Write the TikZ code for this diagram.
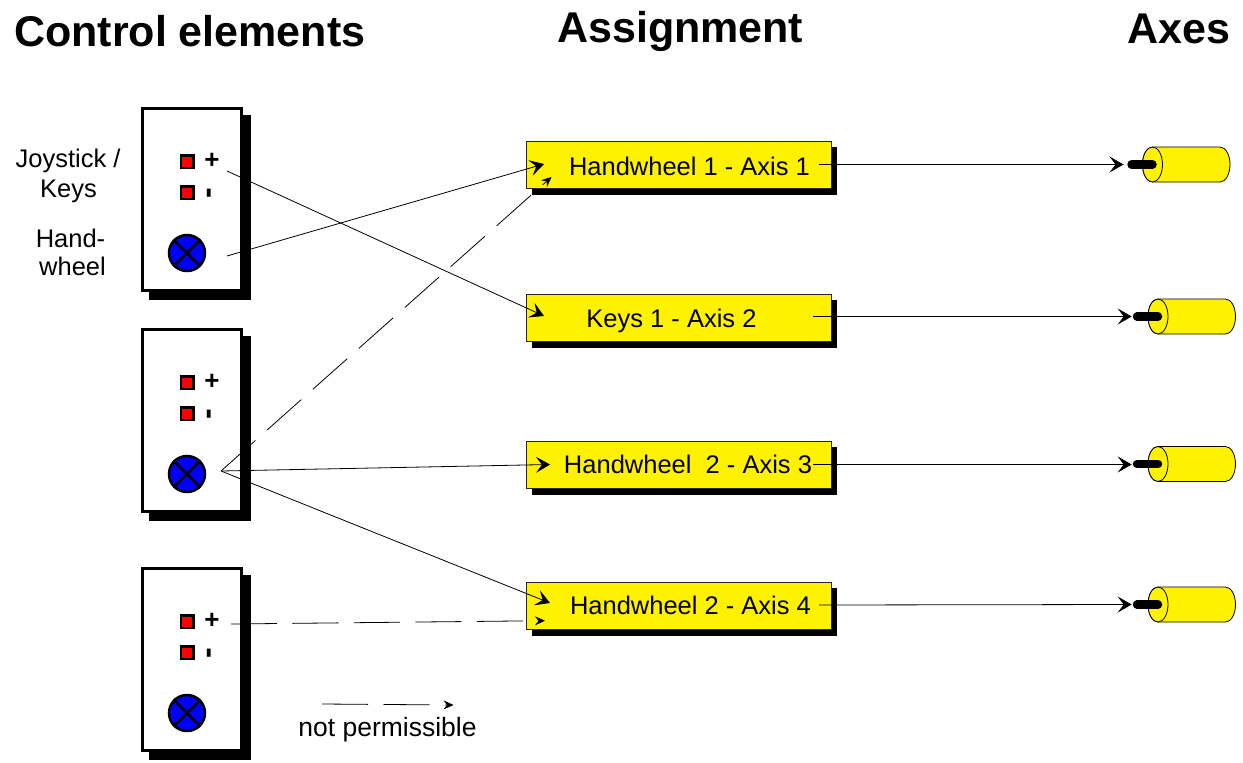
\documentclass[tikz,border=0pt]{standalone}
\usepackage{fontspec}
\setmainfont{Liberation Sans}
\usetikzlibrary{arrows.meta,shadows,calc}

\tikzset{
  title/.style={font=\fontsize{43}{50}\selectfont\bfseries, inner sep=0pt, anchor=base west},
  lbl/.style={font=\fontsize{25.5}{30}\selectfont, inner sep=0pt, anchor=base},
  panel/.style={draw=black, line width=3pt, fill=white, inner sep=0pt,
    minimum width=99pt, minimum height=182pt,
    general shadow={fill=black, draw=black, line width=3pt, shadow xshift=7.5pt, shadow yshift=-7.5pt}},
  keybox/.style={draw=black, line width=2.5pt, fill=red, minimum size=12.5pt, inner sep=0pt},
  signplus/.style={font=\fontsize{26}{30}\selectfont\bfseries, inner sep=0pt},
  signminus/.style={font=\fontsize{32}{36}\selectfont\bfseries, inner sep=0pt, rotate=90},
  wheel/.style={circle, draw=black, line width=2.5pt, fill=blue, minimum size=36pt, inner sep=0pt},
  assign/.style={draw=black!85, line width=0.8pt, fill=yellow, inner sep=0pt,
    minimum width=305pt, minimum height=47.5pt,
    general shadow={fill=black, shadow xshift=5.5pt, shadow yshift=-6pt}},
  link/.style={draw=black, line width=0.8pt},
  bigtip/.style={-{Stealth[length=14pt,width=16pt,inset=6pt]}},
  smalltip/.style={-{Stealth[length=10pt,width=9pt,inset=3.5pt]}},
  forbidden/.style={dash pattern=on 46pt off 15.5pt},
  cylface/.style={fill=yellow, draw=black, line width=0.8pt},
}

\begin{document}
\begin{tikzpicture}[x=1pt, y=-1pt]
\useasboundingbox (0,0) rectangle (1243,763);
\fill[white] (0,0) rectangle (1243,763);

% column headings
\node[title] (hctl) at (14,46) {Control elements};
\node[title] (hasg) at (557,42.7) {Assignment};
\node[title] (haxs) at (1127,43) {Axes};

% control panels: two keys and a handwheel each
\foreach \i/\t in {1/107,2/328,3/567}{
  \node[panel] (pan\i) at (192,\t+92.5) {};
  \node[keybox] (kp\i) at (187,\t+54.5) {};
  \node[keybox] (km\i) at (187,\t+85.5) {};
  \node[signplus] (sp\i) at (212,\t+54) {+};
  \node[signminus] (sm\i) at (212,\t+86) {-};
  \node[wheel] (w\i) at (187,\t+146) {};
  \draw[line width=2.5pt] (w\i.45) -- (w\i.225) (w\i.135) -- (w\i.315);
}

% legend of the first panel
\node[lbl] (ljoy) at (68,167) {Joystick /};
\node[lbl] (lkey) at (68.5,197) {Keys};
\node[lbl] (lhand) at (70.5,247) {Hand-};
\node[lbl] (lwheel) at (72.5,275) {wheel};

% assignment boxes
\node[assign] (b1) at (679,165) {};
\node[assign] (b2) at (679,318) {};
\node[assign] (b3) at (679,465) {};
\node[assign] (b4) at (679,606) {};
\node[lbl] (t1) at (689.5,175) {Handwheel 1 - Axis 1};
\node[lbl] (t2) at (671.5,327.3) {Keys 1 - Axis 2};
\node[lbl] (t3) at (688,473) {Handwheel\ \ 2 - Axis 3};
\node[lbl] (t4) at (690.5,614) {Handwheel 2 - Axis 4};

% axes: cylinders with a drive shaft
\foreach \n/\cx/\cy in {1/1152.5/164.5, 2/1158/316.5, 3/1158/464, 4/1158/604.5}{
  \filldraw[cylface] (\cx,\cy-17.5) -- (\cx+67.5,\cy-17.5)
     arc[start angle=90, end angle=-90, x radius=10pt, y radius=17.5pt]
     -- (\cx,\cy+17.5)
     arc[start angle=270, end angle=90, x radius=10pt, y radius=17.5pt] -- cycle;
  \filldraw[cylface] (\cx,\cy) ellipse[x radius=10pt, y radius=17.5pt];
  \draw[line width=8.5pt, line cap=round] (\cx-21,\cy) -- (\cx,\cy);
}

% connector end points
\coordinate (o1p) at (227,171);
\coordinate (o1w) at (227,256);
\coordinate (o2w) at (221,471);
\coordinate (o3p) at (231,624);
\coordinate (in1a) at (544,164);
\coordinate (in1b) at (551.5,177);
\coordinate (in2) at (544,316);
\coordinate (in3) at (550,464.5);
\coordinate (in4a) at (550,603);
\coordinate (in4b) at (545,620.7);
\coordinate (out1) at (819,164.5);
\coordinate (out2) at (813,316.5);
\coordinate (out3) at (813,464.5);
\coordinate (out4) at (819,605);
\coordinate (ax1) at (1123.5,164.5);
\coordinate (ax2) at (1131.7,316.5);
\coordinate (ax3) at (1131.7,464.5);
\coordinate (ax4) at (1131.7,604.5);
\coordinate (lg1) at (322,704);
\coordinate (lg2) at (453.5,705);

% permitted assignments
\draw[link, bigtip] (o1w) -- (in1a);
\draw[link, bigtip] (o1p) -- (in2);
\draw[link, bigtip] (o2w) -- (in3);
\draw[link, bigtip] (o2w) -- (in4a);

% assignments that are not permitted
\draw[link, forbidden, smalltip] (o2w) -- (in1b);
\draw[link, forbidden, smalltip] (o3p) -- (in4b);

% assignment to axis
\draw[link, bigtip] (out1) -- (ax1);
\draw[link, bigtip] (out2) -- (ax2);
\draw[link, bigtip] (out3) -- (ax3);
\draw[link, bigtip] (out4) -- (ax4);

% key
\draw[link, forbidden, smalltip] (lg1) -- (lg2);
\node[lbl, font=\fontsize{26.5}{30}\selectfont] (lnp) at (387.5,736.7) {not permissible};
\end{tikzpicture}
\end{document}
